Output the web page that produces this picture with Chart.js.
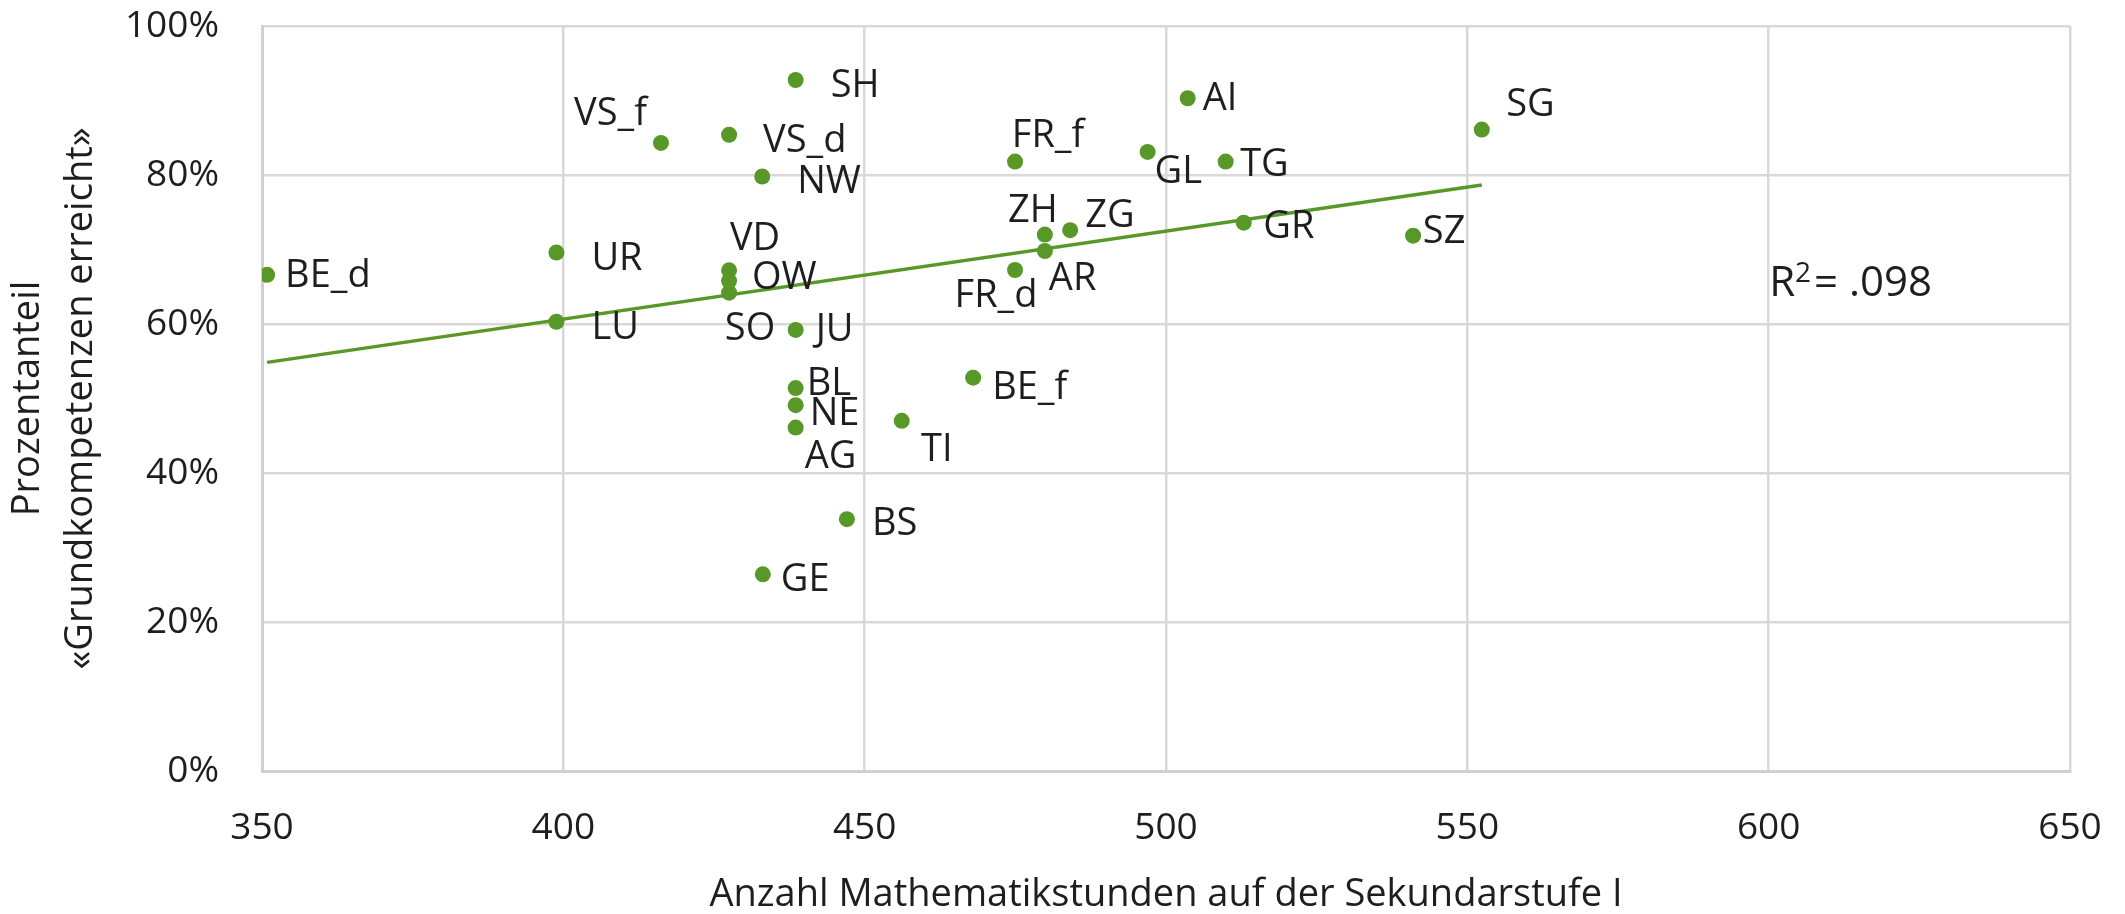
<!DOCTYPE html>
<html><head><meta charset="utf-8">
<script src="https://cdn.jsdelivr.net/npm/chart.js@4.4.1/dist/chart.umd.min.js"></script>
<style>html,body{margin:0;padding:0;background:#fff}canvas{display:block}</style>
</head><body>
<canvas id="c" width="2125" height="914"></canvas>
<script>
// ---- data ----
const cantons = ['BE_d','UR','LU','VS_f','VS_d','VD','OW','SO','NW','GE','SH','JU','BL','NE','AG','BS','TI','BE_f','FR_f','FR_d','ZH','AR','ZG','GL','AI','TG','GR','SZ','SG'];
const hours   = [350.85,398.85,398.85,416.2,427.5,427.5,427.5,427.5,433.0,433.1,438.55,438.55,438.55,438.55,438.55,447.05,456.15,468.0,474.95,474.95,479.9,479.9,484.1,496.95,503.6,509.9,512.9,541.0,552.4];
const shares  = [66.6,69.6,60.3,84.3,85.4,67.2,65.8,64.2,79.8,26.4,92.75,59.2,51.4,49.1,46.1,33.8,47.0,52.8,81.8,67.25,72.0,69.8,72.6,83.1,90.3,81.8,73.6,71.85,86.1];
const trendHours  = [350.85, 552.4];
const trendShares = [54.85, 78.66];
const xTickValues = [350,400,450,500,550,600,650];
const yTickValues = [0,20,40,60,80,100];
const xTitle = 'Anzahl Mathematikstunden auf der Sekundarstufe I';
const yTitle = ['Prozentanteil','«Grundkompetenzen erreicht»'];
const rSquared = '.098';

// ---- styling ----
const GREEN = 'rgb(88,152,40)';
const TEXT = '#1e1e1e';
const GRID = '#d9d9d9';
const FONT = "'Open Sans', sans-serif";
const LABEL_SIZE = 38;

// label placement relative to each point (dx, dy of cap centre, alignment)
const placement = {
  BE_d:{dx:18,dy:-1}, UR:{dx:35,dy:4}, LU:{dx:35,dy:4}, VS_f:{dx:-14,dy:-32,a:'right'},
  VS_d:{dx:34,dy:3.5}, VD:{dx:26,dy:-34,a:'center'}, OW:{dx:23,dy:-5}, SO:{dx:21,dy:33.5,a:'center'},
  NW:{dx:35,dy:3}, GE:{dx:18,dy:3.5}, SH:{dx:35,dy:3}, JU:{dx:20,dy:-2.5}, BL:{dx:11,dy:-7},
  NE:{dx:14,dy:6.7}, AG:{dx:35,dy:26.5,a:'center'}, BS:{dx:25,dy:2.4}, TI:{dx:35,dy:27,a:'center'},
  BE_f:{dx:19,dy:8}, FR_f:{dx:33,dy:-28,a:'center'}, FR_d:{dx:-19,dy:23.5,a:'center'},
  ZH:{dx:-12,dy:-25.7,a:'center'}, AR:{dx:4,dy:25}, ZG:{dx:15,dy:-17}, GL:{dx:7,dy:18},
  AI:{dx:15,dy:-2}, TG:{dx:14.5,dy:1.3}, GR:{dx:19.6,dy:1.3}, SZ:{dx:9.7,dy:-6.7}, SG:{dx:24.4,dy:-26.8}
};

const points = hours.map((h,i)=>({x:h,y:shares[i]}));
const trend = trendHours.map((h,i)=>({x:h,y:trendShares[i]}));

const labelPlugin = {
  id:'pointLabels',
  afterDatasetsDraw(chart){
    const ctx = chart.ctx;
    const meta = chart.getDatasetMeta(1);
    ctx.save();
    ctx.fillStyle = TEXT;
    ctx.textBaseline = 'alphabetic';
    ctx.font = LABEL_SIZE + 'px ' + FONT;
    meta.data.forEach((pt,i)=>{
      const p = placement[cantons[i]] || {dx:15,dy:0};
      ctx.textAlign = p.a || 'left';
      ctx.fillText(cantons[i], pt.x + p.dx, pt.y + p.dy + 0.357*LABEL_SIZE);
    });
    // R² annotation
    const xs = chart.scales.x, ys = chart.scales.y;
    const x0 = xs.getPixelForValue(600) + 0.5;
    const yb = ys.getPixelForValue(63.8);
    ctx.textAlign = 'left';
    ctx.font = '42px ' + FONT;
    ctx.fillText('R', x0, yb);
    let w = ctx.measureText('R').width;
    ctx.font = '28px ' + FONT;
    ctx.fillText('2', x0 + w, yb - 14);
    const w2 = ctx.measureText('2').width;
    ctx.font = '42px ' + FONT;
    ctx.fillText('= ' + rSquared, x0 + w + w2 + 3, yb);
    ctx.restore();
  }
};

function noPad(s){ s.paddingTop = 0; s.paddingBottom = 0; s.paddingLeft = 0; s.paddingRight = 0; }

new Chart(document.getElementById('c'), {
  type:'scatter',
  data:{datasets:[
    {type:'line', data:trend, borderColor:GREEN, borderWidth:3.5, pointRadius:0, fill:false, order:1, tension:0},
    {data:points, backgroundColor:GREEN, borderWidth:0, pointRadius:8, pointHoverRadius:8, order:0}
  ]},
  options:{
    responsive:false, animation:false, devicePixelRatio:1,
    layout:{padding:{top:26,right:55,left:0,bottom:0}},
    plugins:{legend:{display:false}, tooltip:{enabled:false}},
    scales:{
      x:{type:'linear', min:350, max:650,
        afterBuildTicks(s){ s.ticks = xTickValues.map(v=>({value:v})); },
        afterFit(s){ s.height = 143; noPad(s); },
        grid:{color:GRID, lineWidth:2.5, drawTicks:false},
        border:{color:'#d0d0d0', width:3},
        ticks:{padding:35, color:TEXT, font:{family:FONT, size:37}, maxRotation:0},
        title:{display:true, text:xTitle, color:TEXT, font:{family:FONT, size:38, lineHeight:1}, padding:0}
      },
      y:{type:'linear', min:0, max:100,
        afterBuildTicks(s){ s.ticks = yTickValues.map(v=>({value:v})); },
        afterFit(s){ s.width = 262; noPad(s); },
        grid:{color:GRID, lineWidth:2.5, drawTicks:false},
        border:{color:'#d0d0d0', width:3},
        ticks:{padding:43, color:TEXT, font:{family:FONT, size:37}, callback:v=>v+'%'},
        title:{display:true, text:yTitle, color:TEXT, font:{family:FONT, size:38, lineHeight:1.39}, padding:{top:2,bottom:0}}
      }
    }
  },
  plugins:[labelPlugin]
});
</script>
</body></html>
